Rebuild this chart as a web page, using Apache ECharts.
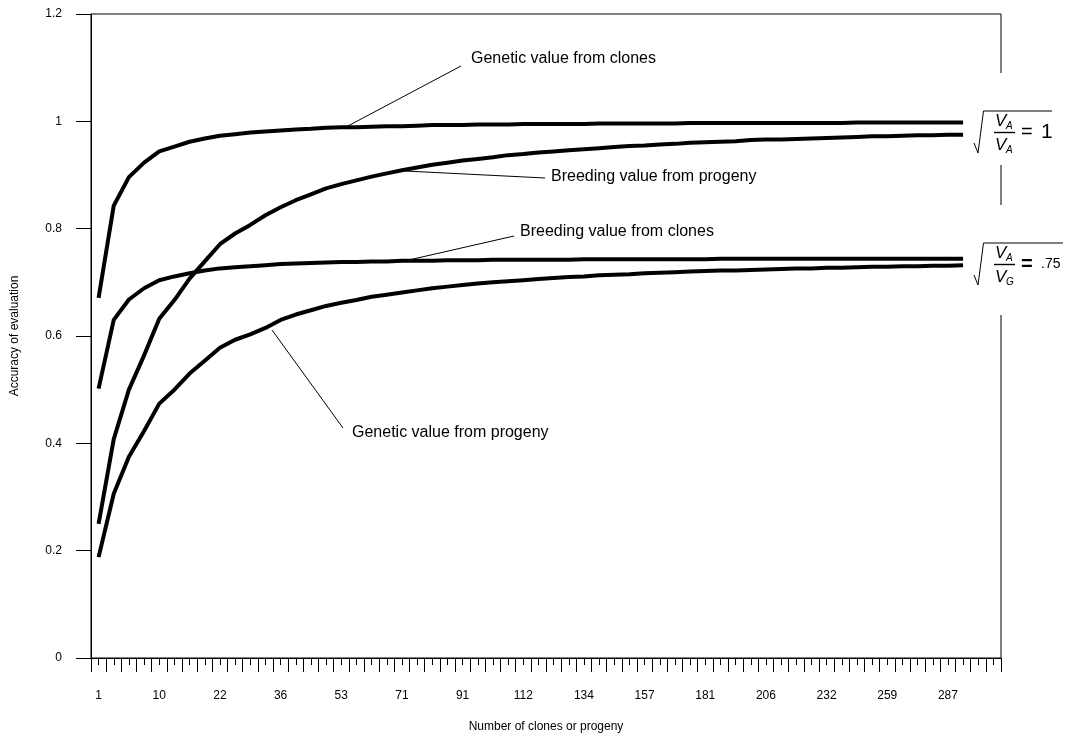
<!DOCTYPE html>
<html>
<head>
<meta charset="utf-8">
<script src="https://cdn.jsdelivr.net/npm/echarts@6/dist/echarts.min.js"></script>
<style>
  html, body { margin: 0; padding: 0; background: #fff; }
  #chart { width: 1078px; height: 738px; }
</style>
</head>
<body>
<div id="chart"></div>
<script>
// tick labels shown every 4th category (60 categories on the axis, 58 carry data)
const tickLabels = ['1', '10', '22', '36', '53', '71', '91', '112', '134', '157', '181', '206', '232', '259', '287'];
const categoryCount = 60;

const geneticFromClones = [
  0.671, 0.843, 0.896, 0.923, 0.944, 0.953, 0.962, 0.968, 0.973, 0.976,
  0.979, 0.981, 0.983, 0.985, 0.986, 0.988, 0.989, 0.989, 0.990, 0.991,
  0.991, 0.992, 0.993, 0.993, 0.993, 0.994, 0.994, 0.994, 0.995, 0.995,
  0.995, 0.995, 0.995, 0.996, 0.996, 0.996, 0.996, 0.996, 0.996, 0.997,
  0.997, 0.997, 0.997, 0.997, 0.997, 0.997, 0.997, 0.997, 0.997, 0.997,
  0.998, 0.998, 0.998, 0.998, 0.998, 0.998, 0.998, 0.998
];
const breedingFromClones = [
  0.502, 0.630, 0.668, 0.689, 0.704, 0.711, 0.717, 0.722, 0.726, 0.728,
  0.730, 0.732, 0.734, 0.735, 0.736, 0.737, 0.738, 0.738, 0.739, 0.739,
  0.740, 0.740, 0.740, 0.741, 0.741, 0.741, 0.742, 0.742, 0.742, 0.742,
  0.742, 0.742, 0.743, 0.743, 0.743, 0.743, 0.743, 0.743, 0.743, 0.743,
  0.743, 0.744, 0.744, 0.744, 0.744, 0.744, 0.744, 0.744, 0.744, 0.744,
  0.744, 0.744, 0.744, 0.744, 0.744, 0.744, 0.744, 0.744
];
const breedingFromProgeny = [
  0.250, 0.408, 0.500, 0.564, 0.632, 0.667, 0.707, 0.739, 0.771, 0.791,
  0.807, 0.825, 0.840, 0.853, 0.864, 0.875, 0.883, 0.890, 0.897, 0.903,
  0.909, 0.914, 0.919, 0.923, 0.927, 0.930, 0.933, 0.937, 0.939, 0.942,
  0.944, 0.946, 0.948, 0.950, 0.952, 0.954, 0.955, 0.957, 0.958, 0.960,
  0.961, 0.962, 0.963, 0.965, 0.966, 0.966, 0.967, 0.968, 0.969, 0.970,
  0.971, 0.972, 0.972, 0.973, 0.974, 0.974, 0.975, 0.975
];
const geneticFromProgeny = [
  0.188, 0.306, 0.375, 0.423, 0.474, 0.500, 0.530, 0.554, 0.578, 0.593,
  0.603, 0.615, 0.630, 0.640, 0.648, 0.656, 0.662, 0.667, 0.673, 0.677,
  0.681, 0.685, 0.689, 0.692, 0.695, 0.698, 0.700, 0.702, 0.704, 0.706,
  0.708, 0.710, 0.711, 0.713, 0.714, 0.715, 0.717, 0.718, 0.719, 0.720,
  0.721, 0.722, 0.722, 0.723, 0.724, 0.725, 0.726, 0.726, 0.727, 0.727,
  0.728, 0.729, 0.729, 0.730, 0.730, 0.731, 0.731, 0.732
];

const FONT = "'Liberation Sans', Arial, sans-serif";
const categories = Array.from({ length: categoryCount }, (_, i) => String(i));
const halfCategories = Array.from({ length: categoryCount * 2 }, (_, i) => String(i));

const chart = echarts.init(document.getElementById('chart'));

const lineSeries = (name, data) => ({
  name,
  type: 'line',
  data,
  symbol: 'none',
  smooth: false,
  silent: true,
  lineStyle: { color: '#000', width: 4, join: 'round' },
  z: 3
});

const txt = (x, y, text, size) => ({
  type: 'text',
  left: x,
  top: y,
  z: 20,
  style: { text, fill: '#000', font: size + 'px ' + FONT }
});

const seg = (pts, w) => ({
  type: 'polyline',
  z: 20,
  shape: { points: pts },
  style: { stroke: '#000', lineWidth: w || 1, fill: null }
});

const cover = (y, h) => ({
  type: 'rect',
  z: 15,
  shape: { x: 992, y, width: 86, height: h },
  style: { fill: '#fff' }
});

// radical sign formulas on the right side
const formula = (top, sub2, tail, tailFont, eqBold, barEnd) => [
  cover(top - 38, top < 150 ? 92 : 110),
  seg([[974, top + 32], [978, top + 42], [983.5, top], [barEnd, top]]),
  { type: 'text', z: 20, x: 995, y: top + 2, style: { text: 'V', fill: '#000', font: 'italic 17px ' + FONT } },
  { type: 'text', z: 20, x: 1006, y: top + 10, style: { text: 'A', fill: '#000', font: 'italic 10px ' + FONT } },
  seg([[994, top + 21.5], [1015, top + 21.5]], 1.4),
  { type: 'text', z: 20, x: 995, y: top + 26, style: { text: 'V', fill: '#000', font: 'italic 17px ' + FONT } },
  { type: 'text', z: 20, x: 1006, y: top + 34, style: { text: sub2, fill: '#000', font: 'italic 10px ' + FONT } },
  { type: 'text', z: 20, x: 1021, y: top + 21.5, style: { text: '=', fill: '#000', font: (eqBold ? 'bold ' : '') + '20px ' + FONT, verticalAlign: 'middle' } },
  { type: 'text', z: 20, x: 1041, y: top + 21.5, style: { text: tail, fill: '#000', font: tailFont + 'px ' + FONT, verticalAlign: 'middle' } }
];

const option = {
  animation: false,
  backgroundColor: '#fff',
  textStyle: { fontFamily: FONT },
  grid: {
    left: 91, right: 77, top: 14, bottom: 80,
    containLabel: false,
    outerBoundsMode: 'none',
    show: true, borderColor: '#000', borderWidth: 1
  },
  xAxis: [
    {
      type: 'category',
      data: categories,
      boundaryGap: true,
      position: 'bottom',
      name: 'Number of clones or progeny',
      nameLocation: 'middle',
      nameGap: 63,
      nameTextStyle: { color: '#000', fontSize: 12, fontFamily: FONT },
      axisLine: { show: true, lineStyle: { color: '#000', width: 1 } },
      axisTick: { show: true, interval: 0, length: 14, lineStyle: { color: '#000', width: 1 } },
      axisLabel: {
        interval: 0,
        margin: 32,
        color: '#000',
        fontSize: 12,
        fontFamily: FONT,
        formatter: (v) => (Number(v) % 4 === 0 ? tickLabels[Number(v) / 4] : '')
      },
      splitLine: { show: false }
    },
    {
      type: 'category',
      data: halfCategories,
      boundaryGap: true,
      position: 'bottom',
      axisLine: { show: false },
      axisTick: { show: true, interval: 0, length: 7, lineStyle: { color: '#000', width: 1 } },
      axisLabel: { show: false },
      splitLine: { show: false }
    }
  ],
  yAxis: {
    type: 'value',
    min: 0,
    max: 1.2,
    interval: 0.2,
    name: 'Accuracy of evaluation',
    nameLocation: 'middle',
    nameGap: 70,
    nameTextStyle: { color: '#000', fontSize: 12, fontFamily: FONT },
    axisLine: { show: true, lineStyle: { color: '#000', width: 1 } },
    axisTick: { show: true, length: 15, lineStyle: { color: '#000', width: 1 } },
    axisLabel: { margin: 29, color: '#000', fontSize: 12, fontFamily: FONT },
    splitLine: { show: false }
  },
  series: [
    lineSeries('Genetic value from clones', geneticFromClones),
    lineSeries('Breeding value from progeny', breedingFromProgeny),
    lineSeries('Breeding value from clones', breedingFromClones),
    lineSeries('Genetic value from progeny', geneticFromProgeny)
  ],
  graphic: [
    // leader lines and notes
    seg([[346, 127], [461, 66]]),
    txt(471, 51, 'Genetic value from clones', 16),
    seg([[405, 171], [545, 178]]),
    txt(551, 169, 'Breeding value from progeny', 16),
    seg([[400, 262], [514, 236]]),
    txt(520, 224, 'Breeding value from clones', 16),
    seg([[272, 330], [343, 428]]),
    txt(352, 425, 'Genetic value from progeny', 16)
  ].concat(
    formula(111, 'A', '1', 21, false, 1052),
    formula(243, 'G', '.75', 14, true, 1063)
  )
};

chart.setOption(option);
</script>
</body>
</html>
